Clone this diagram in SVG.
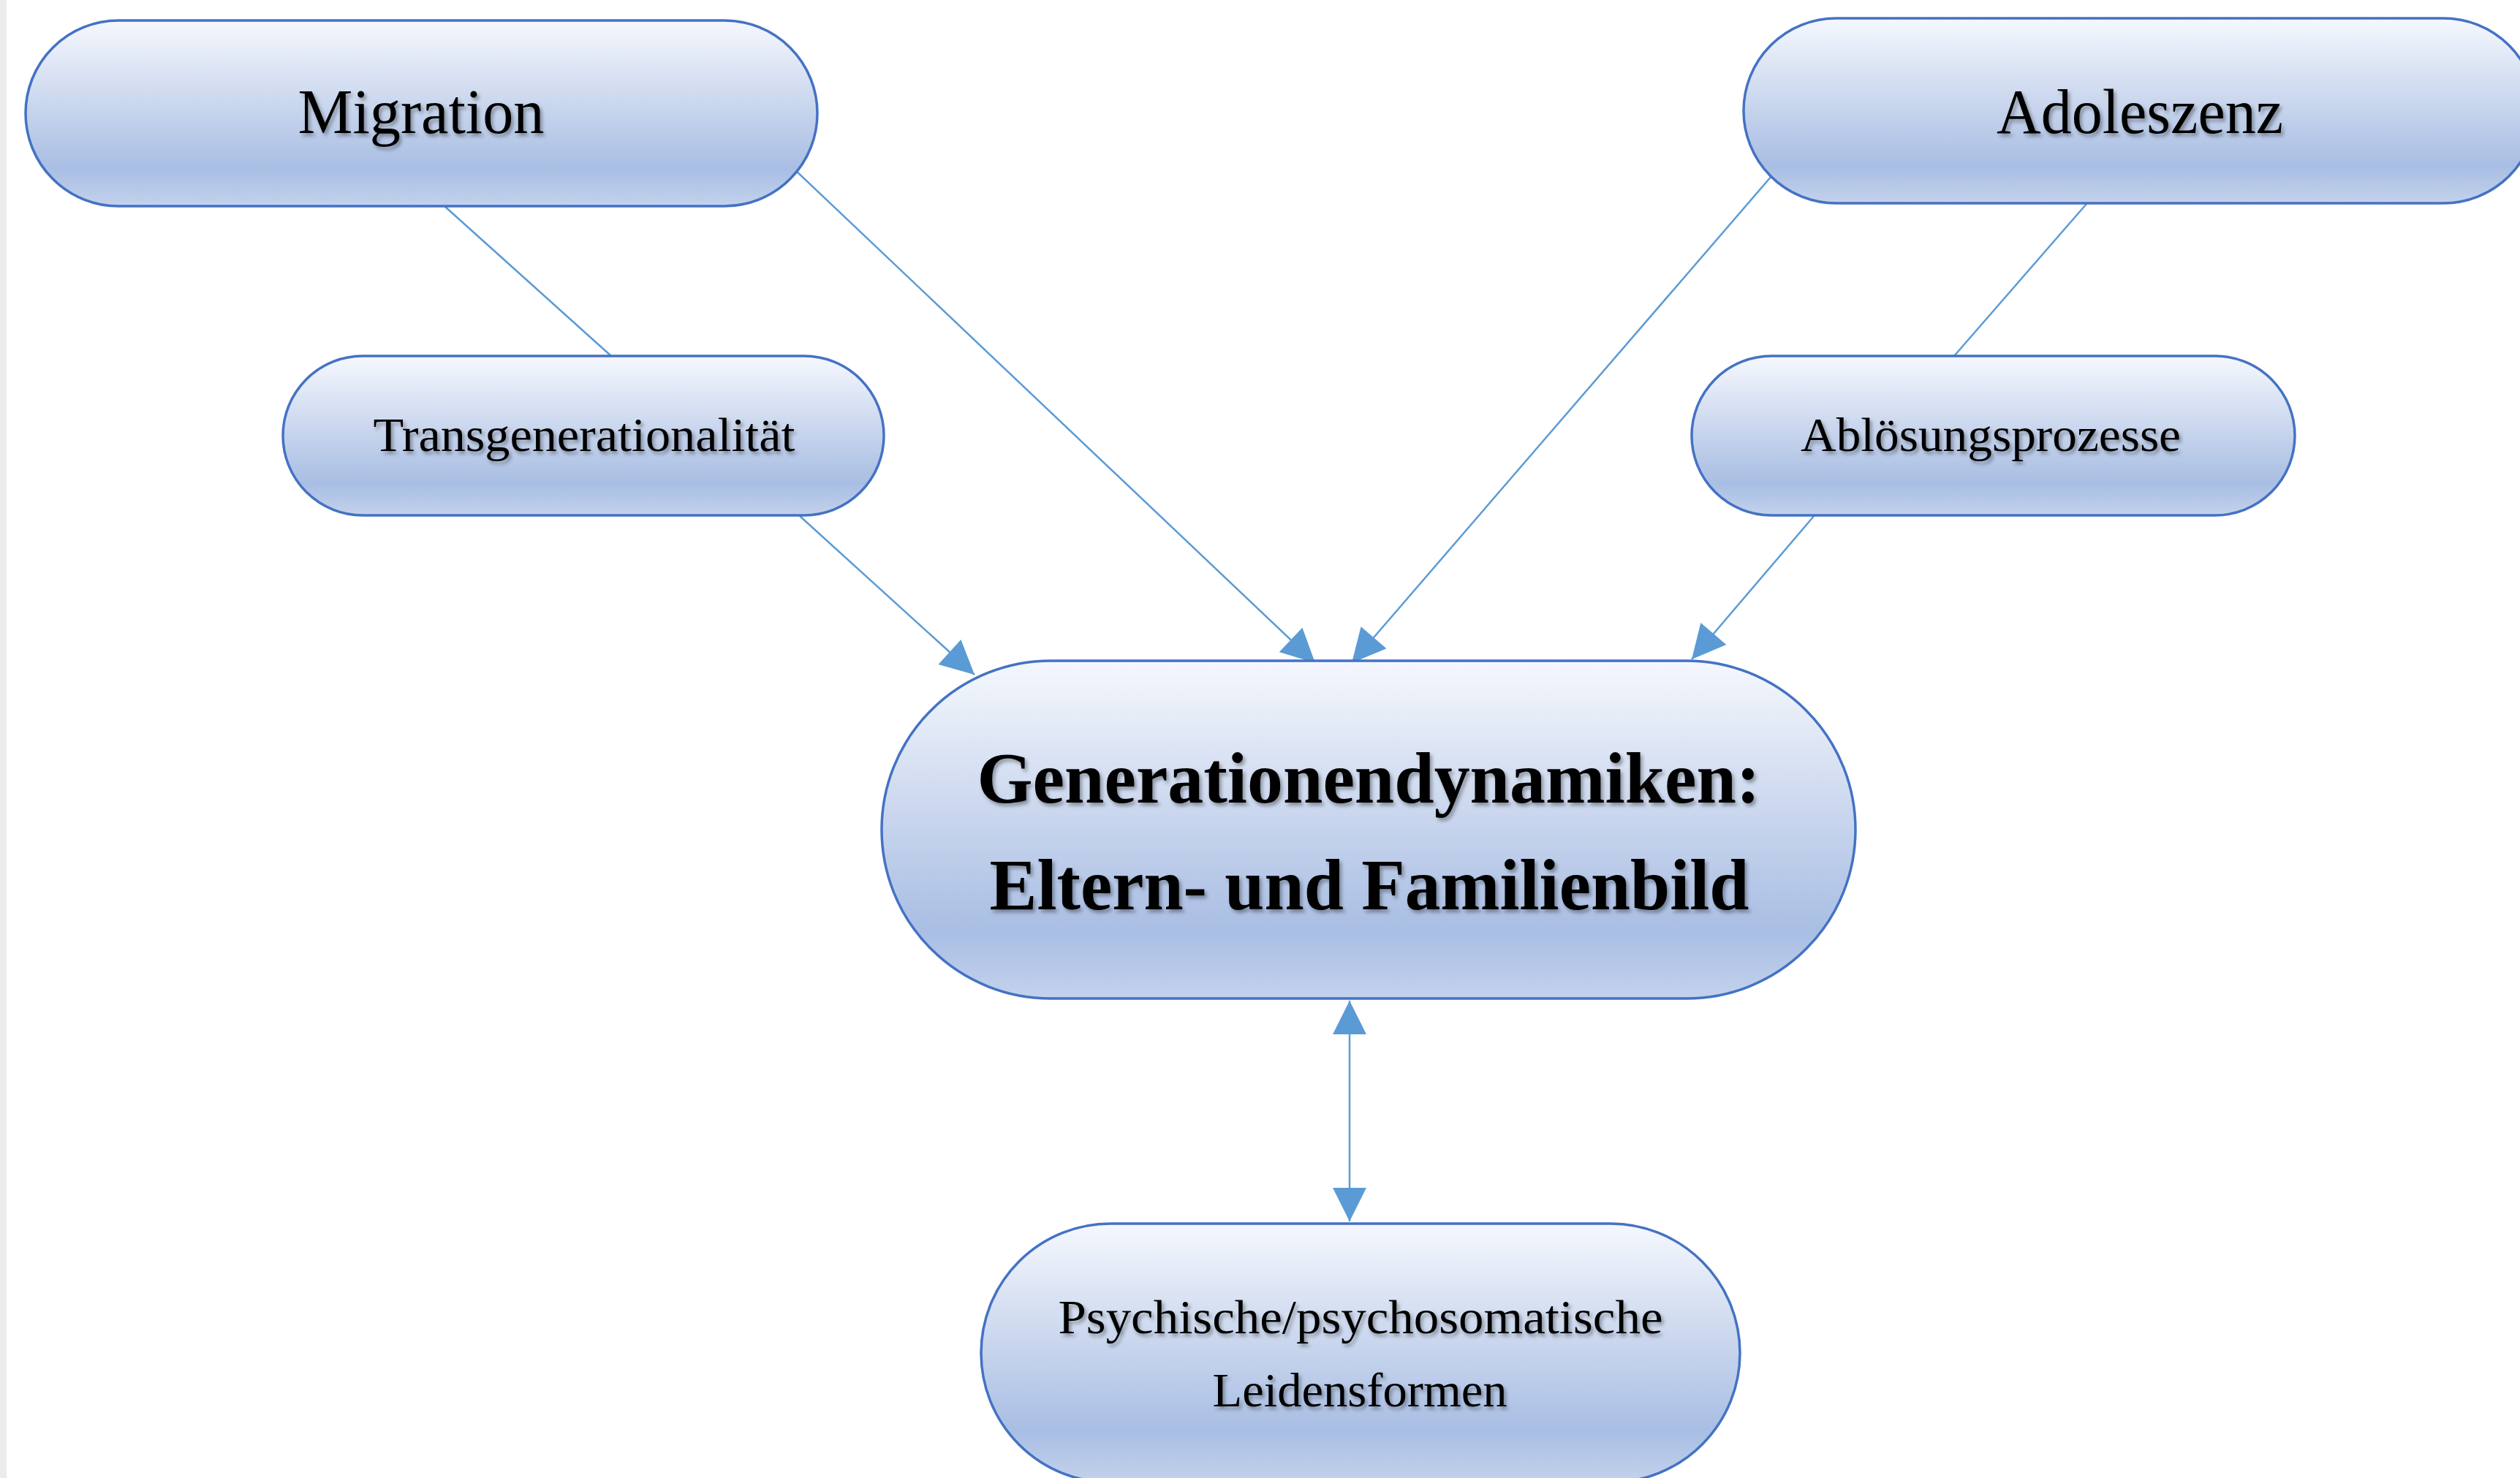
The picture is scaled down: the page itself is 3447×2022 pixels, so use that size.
<svg xmlns="http://www.w3.org/2000/svg" width="3447" height="2022" viewBox="0 0 3447 2022">
<style>
.node{fill:url(#g);stroke:#4472C4;stroke-width:3.5}
.t{font-family:"Liberation Serif","Times New Roman",serif;fill:#000;text-anchor:middle;filter:url(#sh)}
.b{font-weight:bold}
.c{fill:none;stroke:#5B9BD5;stroke-width:2.5}
.a{marker-end:url(#ah)}
</style>
<defs>
<linearGradient id="g" x1="0" y1="0" x2="0" y2="1">
<stop offset="0" stop-color="#F5F7FD"/>
<stop offset="0.12" stop-color="#EAEFF9"/>
<stop offset="0.5" stop-color="#C5D3EC"/>
<stop offset="0.8" stop-color="#A9BEE4"/>
<stop offset="1" stop-color="#C3D2EC"/>
</linearGradient>
<filter id="sh" x="-10%" y="-30%" width="120%" height="160%">
<feDropShadow dx="3" dy="4" stdDeviation="2.5" flood-color="#000" flood-opacity="0.35"/>
</filter>
<marker id="ah" viewBox="0 0 10 10" refX="10" refY="5" markerUnits="userSpaceOnUse" markerWidth="50" markerHeight="46" orient="auto-start-reverse">
<path d="M0,0 L10,5 L0,10 z" fill="#5B9BD5"/>
</marker>
</defs>
<rect x="0" y="0" width="3447" height="2022" fill="#FFFFFF"/>
<rect x="0" y="0" width="9" height="2022" fill="#ECECEC"/>
<g id="connectors">
<path class="c" d="M608,282 L836,487"/>
<path class="c a" d="M1094,706 L1333,923"/>
<path class="c a" d="M1087,232 L1799,907"/>
<path class="c a" d="M2430,233 L1849,907"/>
<path class="c" d="M2854,279 L2673,487"/>
<path class="c a" d="M2482,705 L2314,902"/>
<path class="c a" d="M1846,1369 L1846,1671" style="marker-start:url(#ah)"/>
</g>
<g id="migration">
<rect class="node" x="35" y="28" width="1083" height="254" rx="127" ry="127"/>
<text class="t" x="576" y="182" font-size="86" textLength="337" lengthAdjust="spacingAndGlyphs">Migration</text>
</g>
<g id="adoleszenz">
<rect class="node" x="2385" y="25" width="1084" height="253" rx="126.5" ry="126.5"/>
<text class="t" x="2927" y="182" font-size="86" textLength="392" lengthAdjust="spacingAndGlyphs">Adoleszenz</text>
</g>
<g id="transgenerationalitaet">
<rect class="node" x="387" y="487" width="822" height="218" rx="109" ry="109"/>
<text class="t" x="799" y="617" font-size="66" textLength="577" lengthAdjust="spacingAndGlyphs">Transgenerationalität</text>
</g>
<g id="abloesungsprozesse">
<rect class="node" x="2314" y="487" width="825" height="218" rx="109" ry="109"/>
<text class="t" x="2723" y="617" font-size="66" textLength="520" lengthAdjust="spacingAndGlyphs">Ablösungsprozesse</text>
</g>
<g id="generationendynamiken">
<rect class="node" x="1206" y="904" width="1332" height="462" rx="231" ry="231"/>
<text class="t b" x="1872" y="1098" font-size="100" textLength="1071" lengthAdjust="spacingAndGlyphs">Generationendynamiken:</text>
<text class="t b" x="1873" y="1244" font-size="100" textLength="1039" lengthAdjust="spacingAndGlyphs">Eltern- und Familienbild</text>
</g>
<g id="leidensformen">
<rect class="node" x="1342" y="1674" width="1038" height="354" rx="177" ry="177"/>
<text class="t" x="1861" y="1824" font-size="66" textLength="827" lengthAdjust="spacingAndGlyphs">Psychische/psychosomatische</text>
<text class="t" x="1860" y="1924" font-size="66" textLength="403" lengthAdjust="spacingAndGlyphs">Leidensformen</text>
</g>
</svg>
